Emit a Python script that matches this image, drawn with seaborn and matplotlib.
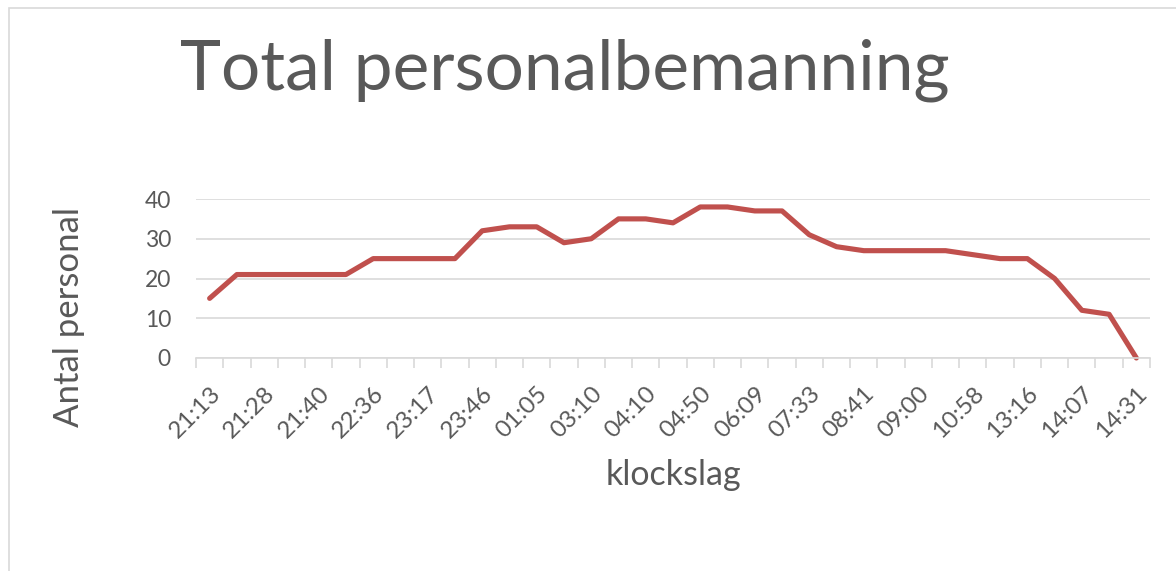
import numpy as np
import matplotlib
matplotlib.use("Agg")
import matplotlib.pyplot as plt
import seaborn as sns
from matplotlib.patches import Rectangle

# staffing per time slot (35 slots, every second one labelled)
staff = [15, 21, 21, 21, 21, 21, 25, 25, 25, 25,
         32, 33, 33, 29, 30, 35, 35, 34, 38, 38,
         37, 37, 31, 28, 27, 27, 27, 27, 26, 25,
         25, 20, 12, 11, 0]
tick_labels = ["21:13", "21:28", "21:40", "22:36", "23:17", "23:46",
               "01:05", "03:10", "04:10", "04:50", "06:09", "07:33",
               "08:41", "09:00", "10:58", "13:16", "14:07", "14:31"]
y_ticks = [0, 10, 20, 30, 40]

sns.set_style("white")
plt.rcParams['font.family'] = ['Lato', 'DejaVu Sans']

grey = "#595959"
fig = plt.figure(figsize=(11.76, 5.71), dpi=100)
ax = fig.add_axes([196 / 1176, 1 - 358 / 571, (1150 - 196) / 1176, (358 - 199) / 571])

# chart frame
fig.patches.append(Rectangle((9 / 1176, -0.05), 1.1, 1 - 8 / 571 + 0.05,
                             transform=fig.transFigure, fill=False,
                             edgecolor="#d9d9d9", linewidth=1.2))

x = np.arange(len(staff))
sns.lineplot(x=x, y=staff, ax=ax, color="#c0504d", linewidth=3.7, clip_on=False)

ax.set_xlim(-0.5, len(staff) - 0.5)
ax.set_ylim(0, 40)
ax.set_yticks(y_ticks)
ax.set_yticklabels([str(v) for v in y_ticks], fontsize=16.5, color=grey)
ax.set_xticks(x[::2])
ax.set_xticklabels(tick_labels, rotation=45, ha="right", rotation_mode="anchor",
                   fontsize=17.5, color=grey)
ax.set_xticks(np.arange(-0.5, len(staff)), minor=True)
ax.tick_params(axis="x", which="major", length=0, pad=18)
ax.tick_params(axis="x", which="minor", bottom=True, length=7,
               color="#d9d9d9", width=1.2)
ax.tick_params(axis="y", length=0, pad=18)

ax.grid(axis="y", color="#d9d9d9", linewidth=1.2)
ax.set_axisbelow(True)
for s in ["top", "right", "left"]:
    ax.spines[s].set_visible(False)
ax.spines["bottom"].set_color("#d9d9d9")
ax.spines["bottom"].set_linewidth(1.2)

ax.set_ylabel("Antal personal", fontsize=25, color=grey, va="center")
ax.yaxis.set_label_coords(-0.133, 0.258)
ax.set_xlabel("klockslag", fontsize=24.5, color=grey, labelpad=12)
fig.text(565 / 1176, 1 - 70 / 571, "Total personalbemanning", fontsize=50,
         color=grey, ha="center", va="center")

fig.savefig("out.png", dpi=100)
